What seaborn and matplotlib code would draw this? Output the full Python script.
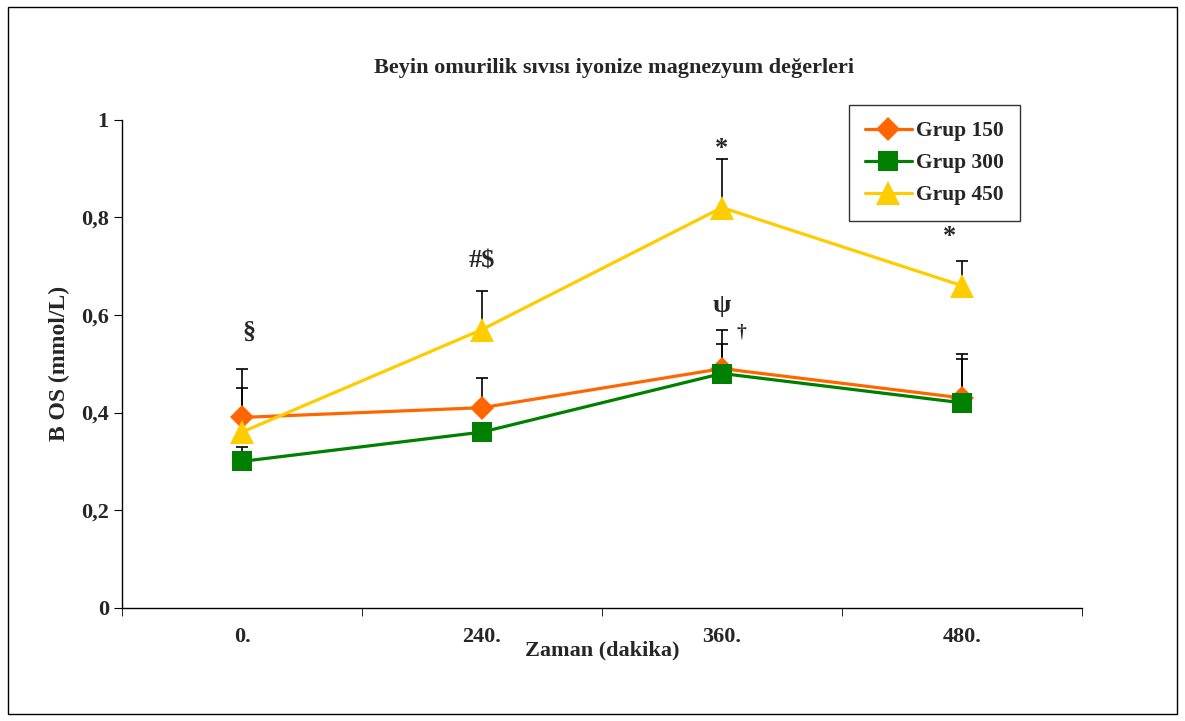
import pandas as pd
import seaborn as sns
import matplotlib.pyplot as plt
from matplotlib.patches import Rectangle

zaman = ["0.", "240.", "360.", "480."]
grup150 = [0.39, 0.41, 0.49, 0.43]
grup300 = [0.30, 0.36, 0.48, 0.42]
grup450 = [0.36, 0.57, 0.82, 0.66]
err150 = [0.06, 0.06, 0.08, 0.09]
err300 = [0.03, 0.0, 0.06, 0.09]
err450 = [0.13, 0.08, 0.10, 0.05]
gruplar = ["Grup 150", "Grup 300", "Grup 450"]
isaretler = [("§", 0.03, 0.565), ("#$", 1, 0.71), ("*", 2, 0.94), ("ψ", 2, 0.62),
             ("†", 2.08, 0.565), ("*", 2.95, 0.76)]

renkler = {"Grup 150": "#FF6600", "Grup 300": "#008000", "Grup 450": "#FFCC00"}
markers = {"Grup 150": "D", "Grup 300": "s", "Grup 450": "^"}
msize = {"Grup 150": 12, "Grup 300": 14, "Grup 450": 17}

df = pd.DataFrame({
    "pos": list(range(4)) * 3,
    "val": grup150 + grup300 + grup450,
    "err": err150 + err300 + err450,
    "grup": sum([[g] * 4 for g in gruplar], []),
})

sns.set_style("white")
plt.rcParams["font.family"] = ["Liberation Serif", "DejaVu Serif"]
plt.rcParams["font.weight"] = "bold"

fig = plt.figure(figsize=(11.85, 7.21), dpi=100)
ax = fig.add_axes([0.103, 0.157, 0.81, 0.677])

# hata cubuklari (sadece yukari)
d = df[df.err > 0]
ax.vlines(d.pos, d.val, d.val + d.err, color="black", linewidth=1.2, zorder=1)
ax.hlines(d.val + d.err, d.pos - 0.025, d.pos + 0.025, color="black", linewidth=1.2, zorder=1)

for g in gruplar:
    sns.lineplot(data=df[df.grup == g], x="pos", y="val", color=renkler[g],
                 marker=markers[g], markersize=msize[g], markeredgewidth=0,
                 linewidth=2.3, label=g, ax=ax, zorder=3)

for txt, x, y in isaretler:
    ax.text(x, y, txt, ha="center", va="center", fontsize=19 if txt != "†" else 14,
            fontweight="bold", family=["Liberation Serif", "DejaVu Serif"])

ax.set_xlim(-0.5, 3.5)
ax.set_ylim(0, 1)
ax.set_yticks([0, 0.2, 0.4, 0.6, 0.8, 1])
ax.set_yticklabels(["0", "0,2", "0,4", "0,6", "0,8", "1"], fontsize=16, fontweight="bold")
ax.set_xticks(range(4))
ax.set_xticklabels(zaman, fontsize=16, fontweight="bold")
ax.set_xticks([-0.5, 0.5, 1.5, 2.5, 3.5], minor=True)
ax.tick_params(axis="x", which="major", length=0, pad=14)
ax.tick_params(axis="x", which="minor", length=6, direction="out", color="black", bottom=True)
ax.tick_params(axis="y", length=6, direction="out", color="black", left=True)
for s in ["top", "right"]:
    ax.spines[s].set_visible(False)
for s in ["left", "bottom"]:
    ax.spines[s].set_color("black")
    ax.spines[s].set_linewidth(1)

ax.set_xlabel("Zaman (dakika)", fontsize=16, fontweight="bold", labelpad=-5)
ax.set_ylabel("B OS (mmol/L)", fontsize=17, fontweight="bold", labelpad=8)
fig.text(0.518, 0.906, "Beyin omurilik sıvısı iyonize magnezyum değerleri",
         ha="center", va="center", fontsize=16, fontweight="bold")

leg = ax.legend(title=None, loc="upper left", bbox_to_anchor=(0.757, 1.03),
                fontsize=15.5, frameon=True, fancybox=False, edgecolor="black",
                handlelength=2.2, handletextpad=0.2, borderpad=0.75, labelspacing=0.55,
                borderaxespad=0)
leg.get_frame().set_linewidth(1)
for t in leg.get_texts():
    t.set_fontweight("bold")

fig.patches.append(Rectangle((0.007, 0.01), 0.986, 0.98, transform=fig.transFigure,
                             fill=False, edgecolor="black", linewidth=1))

plt.savefig("out.png", dpi=100)
